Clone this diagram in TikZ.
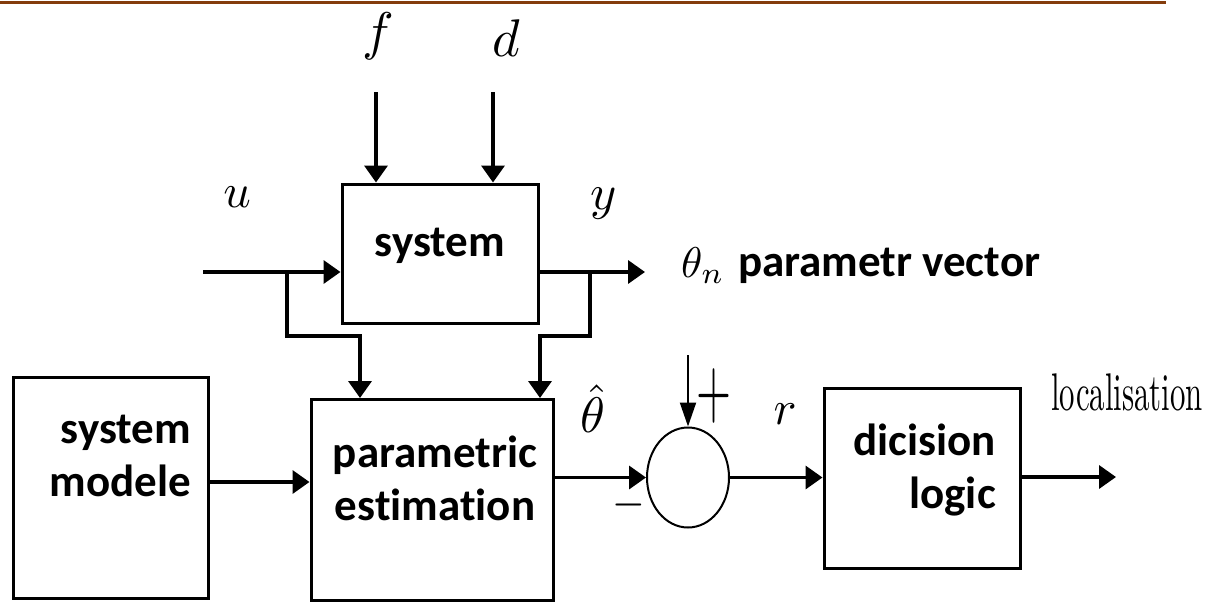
\documentclass[tikz,border=0pt]{standalone}
\usepackage{fontspec}
\usepackage{graphicx}
\newfontfamily\calib[Ligatures=NoCommon]{Carlito}
\usetikzlibrary{arrows.meta,shapes.geometric,calc}
\definecolor{topbrown}{RGB}{132,60,12}
\newcommand{\mylbl}[2]{\scalebox{#1}{$#2$}}
\tikzset{
  blk/.style={draw,line width=3pt,rectangle,inner sep=0pt},
  btxt/.style={font=\calib\bfseries\fontsize{45}{53}\selectfont,inner sep=0pt},
  mtxt/.style={inner sep=0pt},
  arr/.style={line width=3.6pt,-{Triangle[length=17pt,width=23pt]}},
  thinarr/.style={line width=2pt,-{Triangle[length=24pt,width=16pt]}},
}
\begin{document}
\begin{tikzpicture}[x=1pt,y=-1pt]
\useasboundingbox (0,0) rectangle (1218,608);
\draw[topbrown,line width=3pt] (0,2) -- (1166,2);

% blocks
\node[blk,minimum width=196pt,minimum height=139pt] (sys) at (440,253.5) {};
\node[btxt] (systxt) at (440,246) {system};
\node[blk,minimum width=195pt,minimum height=221pt] (mod) at (110.5,487.5) {};
\node[btxt,align=right,anchor=east] (modtxt) at (191,456) {system\\modele};
\node[blk,minimum width=242pt,minimum height=201pt] (est) at (432,500) {};
\node[btxt,align=center] (esttxt) at (435,478) {parametric\\estimation};
\node[draw,ellipse,line width=2pt,minimum width=82pt,minimum height=100pt,inner sep=0pt] (sum) at (688,477.5) {};
\node[blk,minimum width=196pt,minimum height=180pt] (dec) at (922,478) {};
\node[btxt,align=right,anchor=east] (dectxt) at (996,470) {dicision\\logic};

% labels
\node[mtxt] (flab) at (378,36) {\mylbl{5.3}{f}};
\node[mtxt] (dlab) at (506,38) {\mylbl{5.3}{d}};
\node[mtxt] (ulab) at (237,197) {\mylbl{4.8}{u}};
\node[mtxt] (ylab) at (604,204) {\mylbl{5.0}{y}};
\node[mtxt,anchor=base west] (thn) at (681,277) {\mylbl{4.3}{\theta_n}};
\node[btxt,anchor=west] (pvec) at (738,266) {parametr vector};
\node[mtxt] (thhat) at (593,409) {\mylbl{5.0}{\hat{\theta}}};
\node[mtxt] (rlab) at (785,414) {\mylbl{4.8}{r}};
\node[mtxt] (plus) at (714,396) {\scalebox{4.5}[8.2]{$+$}};
\node[mtxt] (minus) at (629,505) {\scalebox{4.2}[5]{$-$}};
\node[mtxt,anchor=base west] (loctxt) at (1051,410) {\scalebox{3.08}[5.3]{localisation}};

% coordinates
\coordinate (fin) at (376,92);
\coordinate (din) at (493,92);
\coordinate (uin) at (203,272);
\coordinate (ub) at (287,272);
\coordinate (ua) at (360,336);
\coordinate (yb) at (590,272);
\coordinate (ya) at (540,336);
\coordinate (yout) at (645,272);
\coordinate (thin) at (688,355);
\coordinate (locout) at (1116,477);
\coordinate (mline) at (208,482);

% connectors
\draw[arr] (fin) -- (fin |- sys.north);
\draw[arr] (din) -- (din |- sys.north);
\draw[arr] (uin) -- (uin -| sys.west);
\draw[arr] (yout -| sys.east) -- (yout);
\draw[arr] (ub) |- (ua) -- (ua |- est.north);
\draw[arr] (yb) |- (ya) -- (ya |- est.north);
\draw[arr] (mline) -- (mline -| est.west);
\draw[arr] (sum.west -| est.east) -- (sum.west);
\draw[thinarr] (thin) -- (sum.north);
\draw[arr] (sum.east) -- (sum.east -| dec.west);
\draw[arr] (locout -| dec.east) -- (locout);
\end{tikzpicture}
\end{document}
